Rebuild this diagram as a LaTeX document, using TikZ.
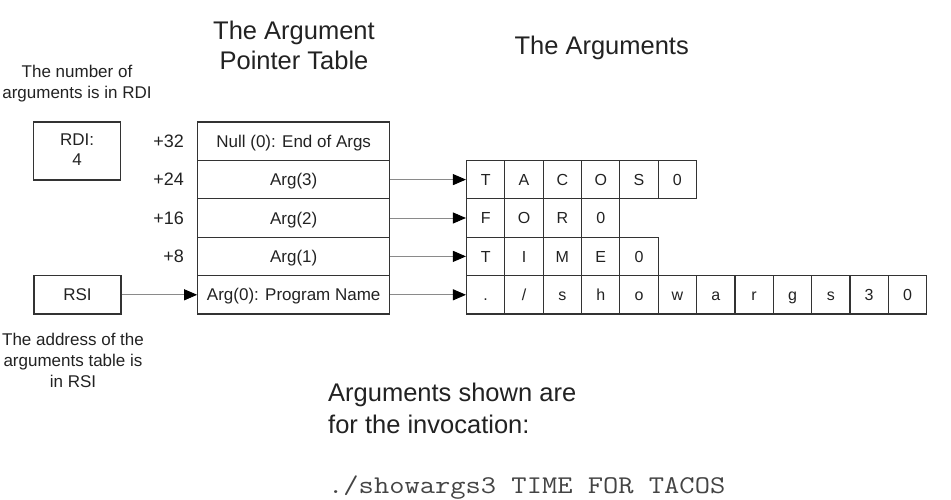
\documentclass[tikz,border=0pt]{standalone}
\usepackage{fontspec}
\usepackage{graphicx}
\setmainfont{Liberation Sans}
\usetikzlibrary{arrows.meta}
\definecolor{ink}{HTML}{222222}
\definecolor{edge}{HTML}{333333}
\definecolor{conn}{HTML}{8A8A8A}
\definecolor{monoink}{HTML}{444444}
\begin{document}
\begin{tikzpicture}[x=1pt,y=-1pt,
  box/.style={draw=edge,line width=1.1pt,inner sep=0pt,text=ink},
  row/.style={box,minimum width=192pt,minimum height=38.4pt,text height=12.2pt,text depth=0pt,font=\fontsize{17}{20}\selectfont},
  cell/.style={box,minimum width=38.35pt,minimum height=38.4pt,text height=11.5pt,text depth=0pt,font=\fontsize{16}{19}\selectfont},
  reg/.style={box,minimum width=87pt,font=\fontsize{17}{20}\selectfont},
  lbl/.style={inner sep=0pt,text=ink,anchor=base,font=\fontsize{17}{20}\selectfont},
  off/.style={inner sep=0pt,text=ink,anchor=base east,font=\fontsize{18}{21}\selectfont},
  big/.style={inner sep=0pt,text=ink,anchor=base,font=\fontsize{25.5}{30}\selectfont},
  ptr/.style={draw=conn,line width=0.9pt,-{Triangle[length=13pt,width=11pt,color=black]}}]
\useasboundingbox (0,0) rectangle (951,500);

% titles
\node[big] (t1) at (294,39.3) {The Argument};
\node[big] (t2) at (294,70) {Pointer Table};
\node[big] (t3) at (601.7,55) {The Arguments};

% left notes
\node[lbl] (n1) at (77,78) {The number of};
\node[lbl] (n2) at (77,99) {arguments is in RDI};
\node[lbl] (b1) at (73,345) {The address of the};
\node[lbl] (b2) at (73,366) {arguments table is};
\node[lbl] (b3) at (73,387) {in RSI};

% registers
\node[reg,minimum height=58pt] (rdi) at (77.2,151) {};
\node[lbl] (rdit1) at (77.2,145.7) {RDI:};
\node[lbl] (rdit2) at (77.2,165.7) {4};
\node[reg,minimum height=38.4pt,text height=12.2pt,text depth=0pt] (rsi) at (77.5,294.8) {RSI};

% pointer table
\node[row] (r4) at (293.7,141.2) {Null (0): End of Args};
\node[row] (r3) at (293.7,179.6) {Arg(3)};
\node[row] (r2) at (293.7,218.0) {Arg(2)};
\node[row] (r1) at (293.7,256.4) {Arg(1)};
\node[row] (r0) at (293.7,294.8) {Arg(0): Program Name};

% offsets
\node[off] (o4) at (184,147.5) {+32};
\node[off] (o3) at (184,185.9) {+24};
\node[off] (o2) at (184,224.3) {+16};
\node[off] (o1) at (184,262.7) {+8};

% argument strings
\foreach \c [count=\n] in {T,A,C,O,S,0}
  \node[cell] (a3-\n) at ({466.5+38.35*(\n-0.5)},179.6) {\c};
\foreach \c [count=\n] in {F,O,R,0}
  \node[cell] (a2-\n) at ({466.5+38.35*(\n-0.5)},218.0) {\c};
\foreach \c [count=\n] in {T,I,M,E,0}
  \node[cell] (a1-\n) at ({466.5+38.35*(\n-0.5)},256.4) {\c};
\foreach \c [count=\n] in {.,/,s,h,o,w,a,r,g,s,3,0}
  \node[cell] (a0-\n) at ({466.5+38.35*(\n-0.5)},294.8) {\c};

% pointers
\draw[ptr] (rsi.east) -- (r0.west);
\draw[ptr] (r3.east) -- (a3-1.west);
\draw[ptr] (r2.east) -- (a2-1.west);
\draw[ptr] (r1.east) -- (a1-1.west);
\draw[ptr] (r0.east) -- (a0-1.west);

% invocation note
\node[big,anchor=base west] (i1) at (328,401.7) {Arguments shown are};
\node[big,anchor=base west] (i2) at (328,433) {for the invocation:};
\node[inner sep=0pt,anchor=base west,text=monoink,font=\ttfamily\fontsize{25.5}{30}\selectfont] (cmd) at (328,493) {\scalebox{1.163}[1]{./showargs3 TIME FOR TACOS}};
\end{tikzpicture}
\end{document}
